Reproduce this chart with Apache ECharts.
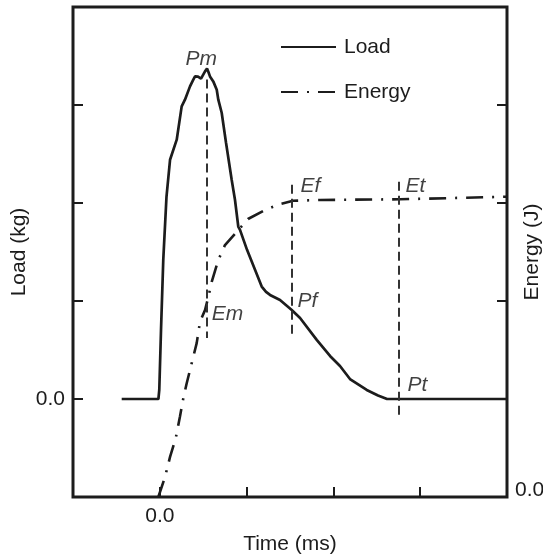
<!DOCTYPE html>
<html>
<head>
<meta charset="utf-8">
<style>
  html, body { margin: 0; padding: 0; background: #ffffff; }
  #chart { width: 543px; height: 558px; }
</style>
<script src="https://cdn.jsdelivr.net/npm/echarts@6/dist/echarts.min.js"></script>
</head>
<body>
<div id="chart"></div>
<script>
// ---- data (time in ms-units, load in kg-units, energy in J-units; arbitrary scale as in figure) ----
var loadTime = [-0.439, -0.016, -0.006, 0.014, 0.040, 0.077, 0.118, 0.195, 0.252, 0.290,
                0.348, 0.386, 0.406, 0.440, 0.475, 0.498, 0.521, 0.544, 0.559, 0.578,
                0.616, 0.656, 0.674, 0.713, 0.763, 0.828, 0.866, 0.904, 0.924, 1.005,
                1.097, 1.174, 1.224, 1.270, 1.385, 1.520, 1.616, 1.808, 1.961, 2.076,
                2.191, 2.384, 2.514, 2.618, 4.000];
var loadValues = [0, 0, 0.092, 0.705, 1.420, 2.063, 2.441, 2.646, 2.986, 3.054,
                  3.190, 3.258, 3.292, 3.289, 3.269, 3.289, 3.343, 3.371, 3.340, 3.292,
                  3.241, 3.156, 3.054, 2.921, 2.615, 2.237, 2.033, 1.760, 1.726, 1.522,
                  1.318, 1.147, 1.093, 1.062, 1.011, 0.909, 0.827, 0.603, 0.439, 0.337,
                  0.204, 0.092, 0.036, 0, 0];

var energyTime = [-0.017, 0.060, 0.118, 0.183, 0.233, 0.271, 0.310, 0.367, 0.425, 0.463,
                  0.521, 0.559, 0.598, 0.674, 0.751, 0.904, 1.016, 1.212, 1.385, 1.535,
                  1.846, 2.767, 4.000];
var energyValues = [0, 0.204, 0.409, 0.597, 0.824, 1.008, 1.161, 1.363, 1.570, 1.788,
                    1.907, 2.040, 2.196, 2.418, 2.571, 2.724, 2.837, 2.928, 2.989, 3.023,
                    3.031, 3.038, 3.064];

// vertical guide lines: time, top load value, bottom load value
var guideTime = [0.538, 1.520, 2.756];
var guideTop = [3.26, 2.186, 2.217];
var guideBottom = [0.623, 0.636, -0.194];

// point annotations (time, load-axis value)
var noteNames = ['Pm', 'Em', 'Ef', 'Et', 'Pf', 'Pt'];
var noteTime = [0.483, 0.786, 1.742, 2.952, 1.707, 2.975];
var noteLoad = [3.463, 0.858, 2.165, 2.165, 0.991, 0.133];

var xTickLabels = { 0: '0.0' };
var loadTickLabels = { 0: '0.0' };
var energyTickLabels = { 0: '0.0' };

// ---- build ----
var FONT = 'Liberation Sans, Arial, Helvetica, sans-serif';
var INK = '#1c1c1c';

function zip(a, b) { return a.map(function (v, i) { return [v, b[i]]; }); }

var guideData = guideTime.map(function (t, i) {
  return [{ coord: [t, guideTop[i]] }, { coord: [t, guideBottom[i]] }];
});
var noteData = noteNames.map(function (n, i) {
  return { name: n, value: [noteTime[i], noteLoad[i]] };
});

var chart = echarts.init(document.getElementById('chart'), null, { renderer: 'canvas' });
chart.setOption({
  animation: false,
  backgroundColor: '#ffffff',
  textStyle: { fontFamily: FONT, color: INK },
  grid: {
    left: 73, right: 36, top: 7, bottom: 61,
    outerBoundsMode: 'none', containLabel: false,
    show: true, borderColor: INK, borderWidth: 3, backgroundColor: 'transparent'
  },
  legend: {
    data: ['Load', 'Energy'],
    orient: 'vertical',
    left: 280, top: 35, padding: 0,
    itemWidth: 55, itemHeight: 14, itemGap: 21,
    itemStyle: { opacity: 0, borderWidth: 0 },
    textStyle: { fontFamily: FONT, fontSize: 21, color: INK, lineHeight: 24, padding: [0, 0, 0, 3] }
  },
  xAxis: {
    type: 'value', min: -1, max: 4, interval: 1,
    name: 'Time (ms)', nameLocation: 'middle', nameGap: 37, nameMoveOverlap: false,
    nameTextStyle: { fontFamily: FONT, fontSize: 21, color: INK },
    axisLine: { show: false, onZero: false },
    axisTick: { show: true, inside: true, length: 10, lineStyle: { color: INK, width: 2 } },
    axisLabel: {
      margin: 9, fontFamily: FONT, fontSize: 21, color: INK,
      formatter: function (v) { return xTickLabels[v] || ''; }
    },
    splitLine: { show: false }
  },
  yAxis: [
    {
      type: 'value', min: -1, max: 4, interval: 1, position: 'left',
      name: 'Load (kg)', nameLocation: 'middle', nameGap: 43, nameRotate: 90, nameMoveOverlap: false,
      nameTextStyle: { fontFamily: FONT, fontSize: 21, color: INK },
      axisLine: { show: false, onZero: false },
      axisTick: { show: true, inside: true, length: 10, lineStyle: { color: INK, width: 2 } },
      axisLabel: {
        margin: 8, fontFamily: FONT, fontSize: 21, color: INK,
        formatter: function (v) { return loadTickLabels[v] || ''; }
      },
      splitLine: { show: false }
    },
    {
      type: 'value', min: 0, max: 5, interval: 1, position: 'right',
      name: 'Energy (J)', nameLocation: 'middle', nameGap: 15, nameRotate: 90, nameMoveOverlap: false,
      nameTextStyle: { fontFamily: FONT, fontSize: 21, color: INK },
      axisLine: { show: false, onZero: false },
      axisTick: { show: true, inside: true, length: 10, lineStyle: { color: INK, width: 2 } },
      axisLabel: {
        margin: 8, fontFamily: FONT, fontSize: 21, color: INK,
        verticalAlign: 'bottom', lineHeight: 14,
        formatter: function (v) { return energyTickLabels[v] || ''; }
      },
      splitLine: { show: false }
    }
  ],
  series: [
    {
      name: 'Load', type: 'line', yAxisIndex: 0,
      data: zip(loadTime, loadValues),
      symbol: 'none', smooth: false,
      lineStyle: { color: INK, width: 2.7, type: 'solid' },
      itemStyle: { color: INK },
      markLine: {
        silent: true, symbol: ['none', 'none'],
        label: { show: false },
        lineStyle: { color: '#333333', width: 2, type: [9, 5] },
        data: guideData
      },
      z: 3
    },
    {
      name: 'Energy', type: 'line', yAxisIndex: 1,
      data: zip(energyTime, energyValues),
      symbol: 'none', smooth: false,
      lineStyle: { color: INK, width: 2.6, type: [17, 9, 2, 9] },
      itemStyle: { color: INK },
      z: 3
    },
    {
      name: 'notes', type: 'scatter', yAxisIndex: 0,
      data: noteData,
      symbolSize: 1,
      itemStyle: { color: 'rgba(0,0,0,0)' },
      silent: true,
      label: {
        show: true, position: [0, 0],
        formatter: function (p) { return p.name; },
        fontFamily: FONT, fontSize: 21, fontStyle: 'italic', color: '#111111',
        align: 'center', verticalAlign: 'middle'
      },
      z: 4
    }
  ]
});
</script>
</body>
</html>
